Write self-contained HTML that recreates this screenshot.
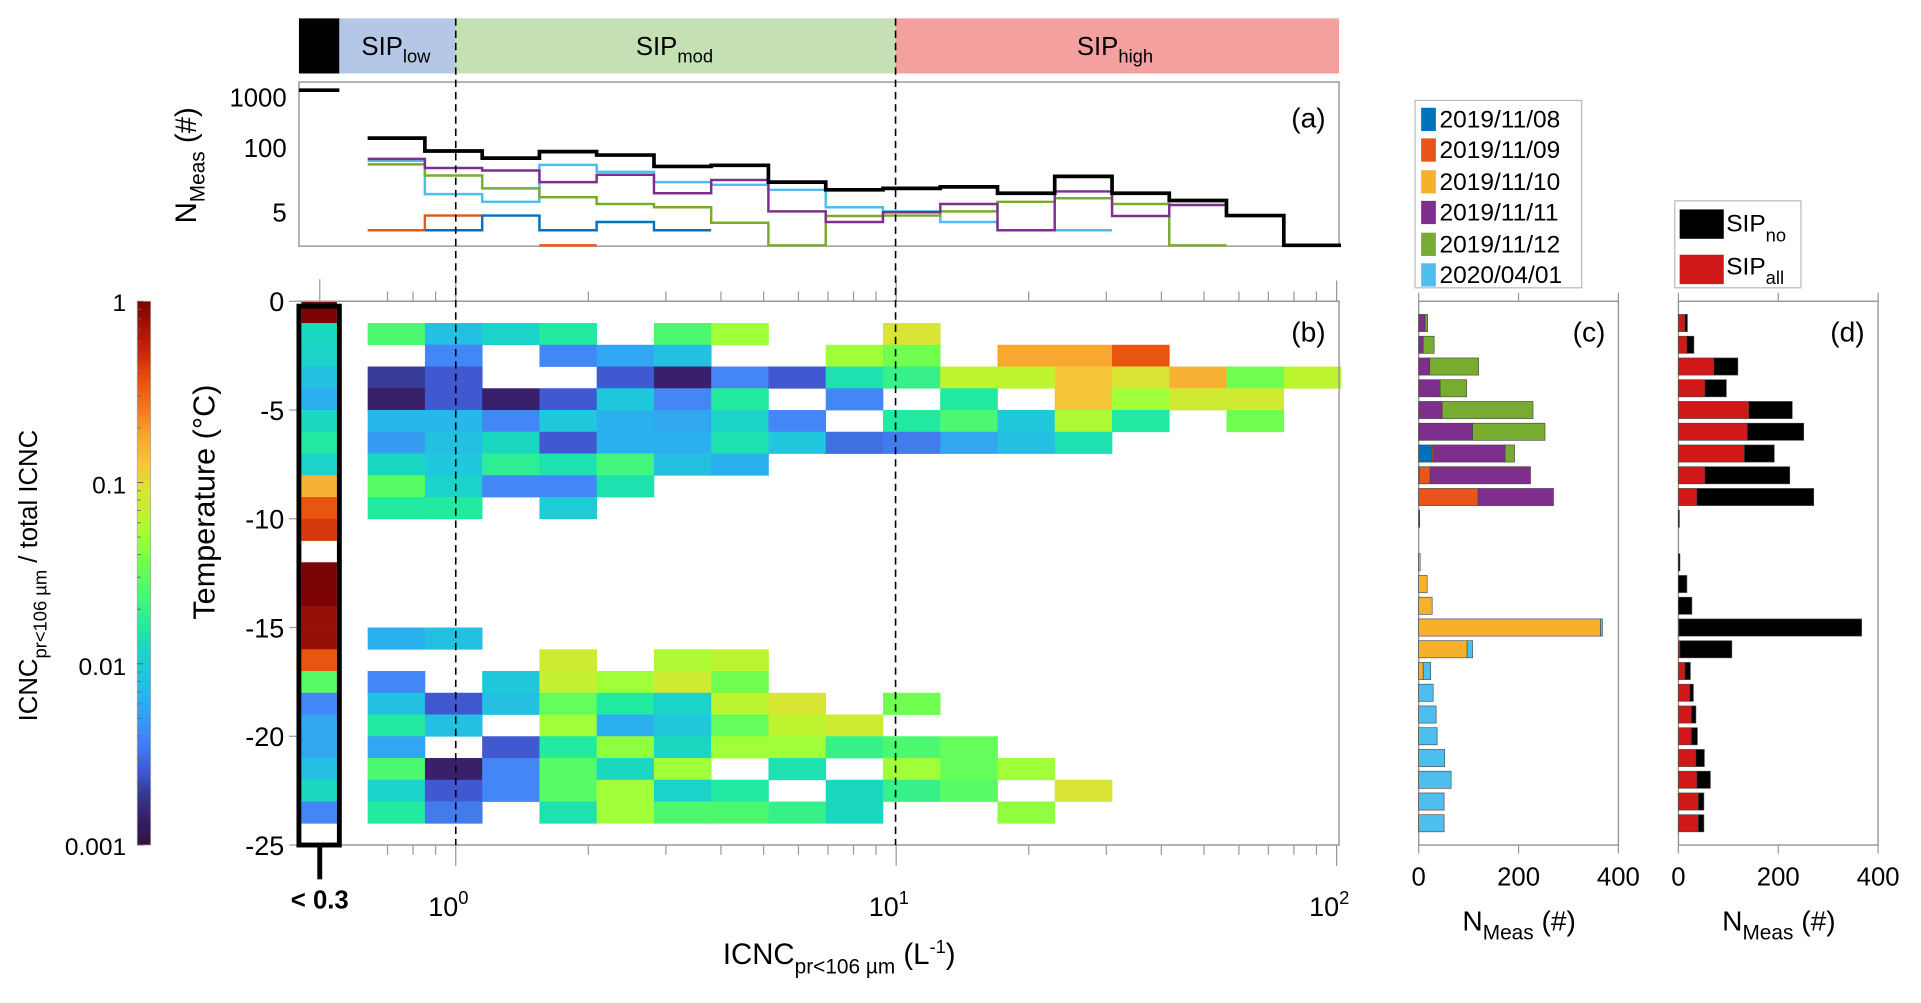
<!DOCTYPE html>
<html><head><meta charset="utf-8"><style>
html,body{margin:0;padding:0;background:#fff;}
svg{display:block;font-family:"Liberation Sans",sans-serif;}
</style></head><body>
<svg id="fig" width="1921" height="1003" viewBox="0 0 1568 819" preserveAspectRatio="none" xmlns="http://www.w3.org/2000/svg">
<defs><linearGradient id="cbgrad" x1="0" y1="1" x2="0" y2="0"></linearGradient></defs>
<!-- SIP band -->
<g>
<rect x="244" y="15" width="33" height="45" fill="#000"/>
<rect x="277" y="15" width="95" height="45" fill="#b4c7e7"/>
<rect x="372" y="15" width="359" height="45" fill="#c5e0b4"/>
<rect x="731" y="15" width="362" height="45" fill="#f4a09e"/>
<text x="295" y="45" font-size="21">SIP<tspan font-size="15" dy="6">low</tspan></text>
<text x="519" y="45" font-size="21">SIP<tspan font-size="15" dy="6">mod</tspan></text>
<text x="879" y="45" font-size="21">SIP<tspan font-size="15" dy="6">high</tspan></text>
</g>
<!-- panel a -->
<rect x="244" y="67" width="849" height="134" fill="none" stroke="#999" stroke-width="1.2"/>
<g id="pa"></g>
<text x="1068" y="104" font-size="23" text-anchor="middle">(a)</text>
<text x="234" y="87" font-size="21" text-anchor="end">1000</text>
<text x="234" y="128" font-size="21" text-anchor="end">100</text>
<text x="234" y="181" font-size="21" text-anchor="end">5</text>
<text transform="translate(160,135) rotate(-90)" font-size="24" text-anchor="middle">N<tspan font-size="17" dy="7">Meas</tspan><tspan dy="-7"> (#)</tspan></text>
<!-- panel b -->
<g id="pb"></g>
<g id="pbl"></g>
<g id="axb"></g>
<rect x="244" y="250" width="33" height="440" fill="none" stroke="#000" stroke-width="4"/>
<line x1="261" y1="690" x2="261" y2="718" stroke="#000" stroke-width="4"/>
<text x="261" y="742" font-size="21" font-weight="bold" text-anchor="middle">&lt; 0.3</text>
<text x="1068" y="279" font-size="23" text-anchor="middle">(b)</text>
<text transform="translate(175,410) rotate(-90)" font-size="25" text-anchor="middle">Temperature (°C)</text>
<text x="685" y="787" font-size="24" text-anchor="middle">ICNC<tspan font-size="17" dy="8">pr&lt;106 µm</tspan><tspan dy="-8"> (L</tspan><tspan font-size="15" dy="-9">-1</tspan><tspan dy="9">)</tspan></text>
<!-- colorbar -->
<rect x="112" y="246" width="11" height="444" fill="url(#cbgrad)" stroke="#aaa" stroke-width="0.6"/>
<g id="cbt"></g>
<text x="103" y="254" font-size="20" text-anchor="end">1</text>
<text x="103" y="403" font-size="20" text-anchor="end">0.1</text>
<text x="103" y="551" font-size="20" text-anchor="end">0.01</text>
<text x="103" y="698" font-size="20" text-anchor="end">0.001</text>
<text transform="translate(30,470) rotate(-90)" font-size="21" text-anchor="middle">ICNC<tspan font-size="15" dy="8">pr&lt;106 µm</tspan><tspan dy="-8"> / total ICNC</tspan></text>
<!-- dashed -->
<line x1="372" y1="15" x2="372" y2="690" stroke="#000" stroke-width="1.3" stroke-dasharray="6,4"/>
<line x1="731" y1="15" x2="731" y2="690" stroke="#000" stroke-width="1.3" stroke-dasharray="6,4"/>
<!-- panels c,d -->
<g id="pc"></g>
<g id="pd"></g>
<text x="1297" y="279" font-size="23" text-anchor="middle">(c)</text>
<text x="1508" y="279" font-size="23" text-anchor="middle">(d)</text>
<text x="1240" y="760" font-size="23" text-anchor="middle">N<tspan font-size="17" dy="7">Meas</tspan><tspan dy="-7"> (#)</tspan></text>
<text x="1452" y="760" font-size="23" text-anchor="middle">N<tspan font-size="17" dy="7">Meas</tspan><tspan dy="-7"> (#)</tspan></text>
<!-- legend c -->
<g>
<rect x="1155" y="82" width="136" height="153" fill="#fff" stroke="#bbb" stroke-width="1"/>
<rect x="1160" y="88" width="12" height="19" fill="#0072bd"/>
<text x="1175" y="104" font-size="20">2019/11/08</text>
<rect x="1160" y="113" width="12" height="19" fill="#e8541a"/>
<text x="1175" y="129" font-size="20">2019/11/09</text>
<rect x="1160" y="139" width="12" height="19" fill="#f5b02c"/>
<text x="1175" y="155" font-size="20">2019/11/10</text>
<rect x="1160" y="164" width="12" height="19" fill="#7e2f8e"/>
<text x="1175" y="180" font-size="20">2019/11/11</text>
<rect x="1160" y="190" width="12" height="19" fill="#77ac30"/>
<text x="1175" y="206" font-size="20">2019/11/12</text>
<rect x="1160" y="215" width="12" height="19" fill="#4dbeee"/>
<text x="1175" y="231" font-size="20">2020/04/01</text>
</g>
<g>
<rect x="1367" y="164" width="103" height="71" fill="#fff" stroke="#bbb" stroke-width="1"/>
<rect x="1371" y="171" width="36" height="24" fill="#000"/>
<text x="1409" y="189" font-size="20">SIP<tspan font-size="15" dy="8">no</tspan></text>
<rect x="1371" y="208" width="36" height="24" fill="#d01818"/>
<text x="1409" y="224" font-size="20">SIP<tspan font-size="15" dy="8">all</tspan></text>
</g>
</svg>
<script>
// ---------- data ----------
var N = null;
// heatmap rows k = 0..24 (row k spans -k to -(k+1) °C), 17 ICNC bins, log10(ratio)
var heatRow1  = [-1.6,-2.1,-1.95,-1.8,N,-1.6,-1.3,N,N,-1.05];
var heatRow2  = [N,-2.4,N,-2.4,-2.25,-2.1,N,N,-1.3,-1.45,N,-0.75,-0.75,-0.45];
var heatRow3  = [-2.7,-2.6,N,N,-2.6,-2.85,-2.4,-2.6,-1.85,-1.7,-1.2,-1.2,-0.9,-1.05,-0.8,-1.45,-1.2];
var heatRow4  = [-2.85,-2.6,-2.85,-2.6,-2.05,-2.4,-1.8,N,-2.4,N,-1.8,N,-0.9,-1.3,-1.1,-1.1];
var heatRow5  = [-2.15,-2.15,-2.4,-2.05,-2.2,-2.25,-1.95,-2.4,N,-1.8,-1.6,-2.05,-1.25,-1.8,N,-1.45];
var heatRow6  = [-2.3,-2.1,-1.9,-2.6,-2.2,-2.2,-1.85,-2.05,-2.5,-2.45,-2.25,-2.1,-1.85];
var heatRow7  = [-1.9,-2.05,-1.75,-1.85,-1.65,-2.1,-2.2];
var heatRow8  = [-1.55,-1.95,-2.4,-2.4,-1.85];
var heatRow9  = [-1.8,-1.8,N,-2.0];
var heatRow15 = [-2.2,-2.1];
var heatRow16 = [N,N,N,-1.1,N,-1.25,-1.2];
var heatRow17 = [-2.4,N,-2.05,-1.15,-1.3,-1.1,-1.45];
var heatRow18 = [-2.1,-2.6,-2.1,-1.5,-1.8,-1.95,-1.2,-1.05,N,-1.45];
var heatRow19 = [-1.8,-2.1,N,-1.3,-2.2,-2.05,-1.5,-1.2,-1.1];
var heatRow20 = [-2.25,N,-2.6,-1.8,-1.35,-1.9,-1.3,-1.3,-1.7,-1.6,-1.5];
var heatRow21 = [-1.6,-2.85,-2.4,-1.55,-1.9,-1.3,N,-1.85,N,-1.3,-1.5,-1.3];
var heatRow22 = [-1.95,-2.6,-2.4,-1.55,-1.3,-1.95,-1.8,N,-1.9,-1.7,-1.55,N,-1.05];
var heatRow23 = [-1.8,-2.45,N,-1.85,-1.3,-1.6,-1.6,-1.7,-1.9,N,N,-1.35];
var heatRows = [[],heatRow1,heatRow2,heatRow3,heatRow4,heatRow5,heatRow6,heatRow7,heatRow8,heatRow9,[],[],[],[],[],heatRow15,heatRow16,heatRow17,heatRow18,heatRow19,heatRow20,heatRow21,heatRow22,heatRow23,[]];
// below-threshold (<0.3) column, rows 0..24
var lowColumn = [0,-1.9,-1.95,-2.1,-2.2,-1.9,-1.8,-1.95,-0.8,-0.45,-0.35,N,0,0,-0.1,-0.1,-0.45,-1.55,-2.4,-2.25,-2.25,-2.1,-1.9,-2.4,N];
// panel (a) counts per ICNC bin
var nMeasLow   = 1350;
var nAll       = [150,83,60,81,69,41,43,20,14,15,16,12,26,12,8.6,4.3,1.1];
var n20191108  = [N,2.2,4.3,2.2,3.2,2.2,N,N,N,N,N,N,N,N,N,N,N];
var n20191109  = [2.2,4.3,N,1.1,N,N,N,N,N,N,N,N,N,N,N,N,N];
var n20191111  = [58,38,34,20,28,12,22,5.2,3.2,5,7.3,2.2,13,4.2,7,N,N];
var n20191112  = [45,27,15,10,7.3,6.3,3.1,1.1,4.2,4.3,5.2,8.1,9.5,7.3,1.1,N,N];
var n20200401  = [53,11.5,8.1,44,32,20,17.6,14,6.3,5.2,3.2,2.2,2.2,N,N,N,N];
// panel (c),(d) per temperature level k=1..24 (T = -k)
var barBlue   = [0,0,0,0,0,1,27,1,0,0,0,0,0,0,0,0,0,0,0,0,0,0,0,0];
var barOrange = [0,0,0,0,0,0,3,22,119,0,0,0,0,0,0,0,0,0,0,0,0,0,0,0];
var barYellow = [0,0,0,0,0,0,0,0,0,0,0,3,17,27,364,97,9,0,0,0,0,0,0,0];
var barPurple = [13,9,22,43,47,107,143,201,151,2,0,0,0,0,0,0,0,0,0,0,0,0,0,0];
var barGreen  = [5,22,98,53,182,145,19,0,0,0,0,0,0,0,0,0,0,0,0,0,0,0,0,0];
var barCyan   = [0,0,0,0,0,0,0,0,0,0,0,0,0,0,4,11,15,29,35,37,52,65,51,51];
var sipAll    = [13,17,71,53,141,138,132,53,37,0,0,0,0,0,1,3,13,23,26,26,35,37,40,40];
var sipNo     = [5,14,48,43,87,113,60,170,234,2,0,3,17,27,366,104,11,7,9,12,17,27,11,11];

// ---------- scales ----------
var NS='http://www.w3.org/2000/svg';
function mk(tag, attrs, parent){var e=document.createElementNS(NS,tag);for(var k in attrs)e.setAttribute(k,attrs[k]);parent.appendChild(e);return e;}
function xs(v){return 372+359.5*Math.log10(v);}
function binEdge(i){return Math.pow(10,-0.2+0.13*i);}
function ya(v){return 120+41*(2-Math.log10(v));}
function yb(T){return 246+17.76*(-T);}
function xc(v){return 1158+v*0.4075;}
function xd(v){return 1370+v*0.4075;}
var cmapStops=[[-3,'#30123b'],[-2.85,'#38206a'],[-2.7,'#383c98'],[-2.6,'#4058d0'],[-2.4,'#4287f5'],[-2.2,'#2bb0ef'],[-2.05,'#1fc8dc'],[-1.9,'#1ad8c0'],[-1.8,'#22eaa0'],[-1.6,'#4cf870'],[-1.45,'#70ff50'],[-1.3,'#a0ff38'],[-1.2,'#bcf530'],[-1.05,'#d8e535'],[-0.9,'#f5c53a'],[-0.75,'#f8a830'],[-0.6,'#f07a25'],[-0.45,'#e85510'],[-0.25,'#c02008'],[0,'#7a0403']];
function hex(h){return [parseInt(h.substr(1,2),16),parseInt(h.substr(3,2),16),parseInt(h.substr(5,2),16)];}
function cmap(v){
  v=Math.max(-3,Math.min(0,v));
  for(var i=0;i<cmapStops.length-1;i++){var a=cmapStops[i],b=cmapStops[i+1];
    if(v<=b[0]){var t=(v-a[0])/(b[0]-a[0]),ca=hex(a[1]),cb=hex(b[1]);
      return 'rgb('+Math.round(ca[0]+(cb[0]-ca[0])*t)+','+Math.round(ca[1]+(cb[1]-ca[1])*t)+','+Math.round(ca[2]+(cb[2]-ca[2])*t)+')';}}
  return cmapStops[cmapStops.length-1][1];
}
// colorbar gradient
var grad=document.getElementById('cbgrad');
for(var s=0;s<=60;s++){var lv=-3+3*s/60;var st=mk('stop',{offset:(s/60),'stop-color':cmap(lv)},grad);}

// ---------- heatmap ----------
var pb=document.getElementById('pb');
heatRows.forEach(function(row,k){
  row.forEach(function(v,i){
    if(v===null||v===undefined)return;
    var x0=xs(binEdge(i)),x1=xs(binEdge(i+1));
    var r=mk('rect',{x:x0,y:yb(-k),width:x1-x0+0.3,height:yb(-k-1)-yb(-k)+0.3,fill:cmap(v)},pb);
    
    
  });
});
var pbl=document.getElementById('pbl');
lowColumn.forEach(function(v,k){
  if(v===null)return;
  var r=mk('rect',{x:246,y:yb(-k),width:29,height:yb(-k-1)-yb(-k)+0.3,fill:cmap(v)},pbl);
  
  
});

// ---------- axes b ----------
var axb=document.getElementById('axb');
var fr=mk('path',{d:'M244 246 H1093 V690 H244',fill:'none',stroke:'#999','stroke-width':1.2},axb);


var tickVals=[0.7,0.8,0.9,1,2,3,4,5,6,7,8,9,10,20,30,40,50,60,70,80,90,100];
tickVals.forEach(function(v){
  var major=(v===1||v===10||v===100);var L=major?17:8;var x=xs(v);
  var t1=mk('line',{x1:x,y1:690,x2:x,y2:690+L,stroke:'#999','stroke-width':1},axb);
  
  
  var t2=mk('line',{x1:x,y1:246,x2:x,y2:246-L,stroke:'#999','stroke-width':1},axb);
  
  
});
var tl=mk('line',{x1:261,y1:246,x2:261,y2:228,stroke:'#999','stroke-width':1},axb);


[['10','0',1],['10','1',10],['10','2',100]].forEach(function(p){
  var t=mk('text',{x:xs(p[2])-6,y:748,'font-size':22,'text-anchor':'middle'},axb);
  
  
  t.textContent=p[0];
  var sp=mk('tspan',{'font-size':15,dy:-10},t);sp.textContent=p[1];
});
var yTicks=[0,-5,-10,-15,-20,-25];
yTicks.forEach(function(T){
  var l=mk('line',{x1:236,y1:yb(T),x2:244,y2:yb(T),stroke:'#999','stroke-width':1},axb);
  
  
  var t=mk('text',{x:232,y:yb(T)+8,'font-size':22,'text-anchor':'end'},axb);
  
  
  t.textContent=String(T);
});
// colorbar minor ticks
var cbt=document.getElementById('cbt');
[0.001,0.01,0.1].forEach(function(d){for(var m=1;m<=10;m++){var v=d*m;var y=690-148*(Math.log10(v)+3);
  var l=mk('line',{x1:112,y1:y,x2:m===1||m===10?117:115,y2:y,stroke:'#666','stroke-width':0.7},cbt);
  
  }});

// ---------- panel a ----------
var pa=document.getElementById('pa');
function stepPath(arr){var d='',prev=null;
  arr.forEach(function(v,i){var x0=xs(binEdge(i)),x1=xs(binEdge(i+1));
    if(v===null){prev=null;return;}
    var y=Math.min(201,ya(v));
    if(prev===null)d+='M'+x0.toFixed(1)+' '+y.toFixed(1);else d+=' V'+y.toFixed(1);
    d+=' H'+x1.toFixed(1);prev=v;});
  return d;}
[[n20191109,'#e8541a',2,'line-2019-11-09'],[n20191108,'#0072bd',2,'line-2019-11-08'],[n20200401,'#4dbeee',2,'line-2020-04-01'],[n20191112,'#77ac30',2,'line-2019-11-12'],[n20191111,'#7e2f8e',2,'line-2019-11-11'],[nAll,'#000',3,'line-all']].forEach(function(s){
  var p=mk('path',{d:stepPath(s[0]),fill:'none',stroke:s[1],'stroke-width':s[2]},pa);
  
  
});
var lowSeg=mk('line',{x1:244,y1:ya(nMeasLow),x2:277,y2:ya(nMeasLow),stroke:'#000','stroke-width':3},pa);



// ---------- panels c, d ----------
function frame(g,x0,name){
  var f=mk('rect',{x:x0,y:246,width:163,height:444,fill:'none',stroke:'#999','stroke-width':1.2},g);
  
  
  [0,200,400].forEach(function(v){var x=x0+v*0.4075;
    var l=mk('line',{x1:x,y1:690,x2:x,y2:697,stroke:'#999','stroke-width':1},g);
    
    
    var l2=mk('line',{x1:x,y1:246,x2:x,y2:239,stroke:'#999','stroke-width':1},g);
    
    
    var t=mk('text',{x:x,y:723,'font-size':21,'text-anchor':'middle'},g);
    
    
    t.textContent=String(v);});
}
var pc=document.getElementById('pc'),pd=document.getElementById('pd');
frame(pc,1158,'panel-c');frame(pd,1370,'panel-d');
function stack(g,scale,series,colors,names){
  for(var k=0;k<24;k++){var acc=0;var yc=yb(-(k+1));
    series.forEach(function(arr,j){var v=arr[k];if(!v)return;
      var r=mk('rect',{x:scale(acc),y:yc-7,width:scale(acc+v)-scale(acc),height:14,fill:colors[j],stroke:'#444','stroke-width':0.5},g);
      
      
      acc+=v;});}
}
stack(pc,xc,[barBlue,barOrange,barYellow,barPurple,barGreen,barCyan],['#0072bd','#e8541a','#f5b02c','#7e2f8e','#77ac30','#4dbeee'],['bar-2019-11-08','bar-2019-11-09','bar-2019-11-10','bar-2019-11-11','bar-2019-11-12','bar-2020-04-01']);
stack(pd,xd,[sipAll,sipNo],['#d01818','#000'],['bar-sip-all','bar-sip-no']);
</script>
</body></html>
